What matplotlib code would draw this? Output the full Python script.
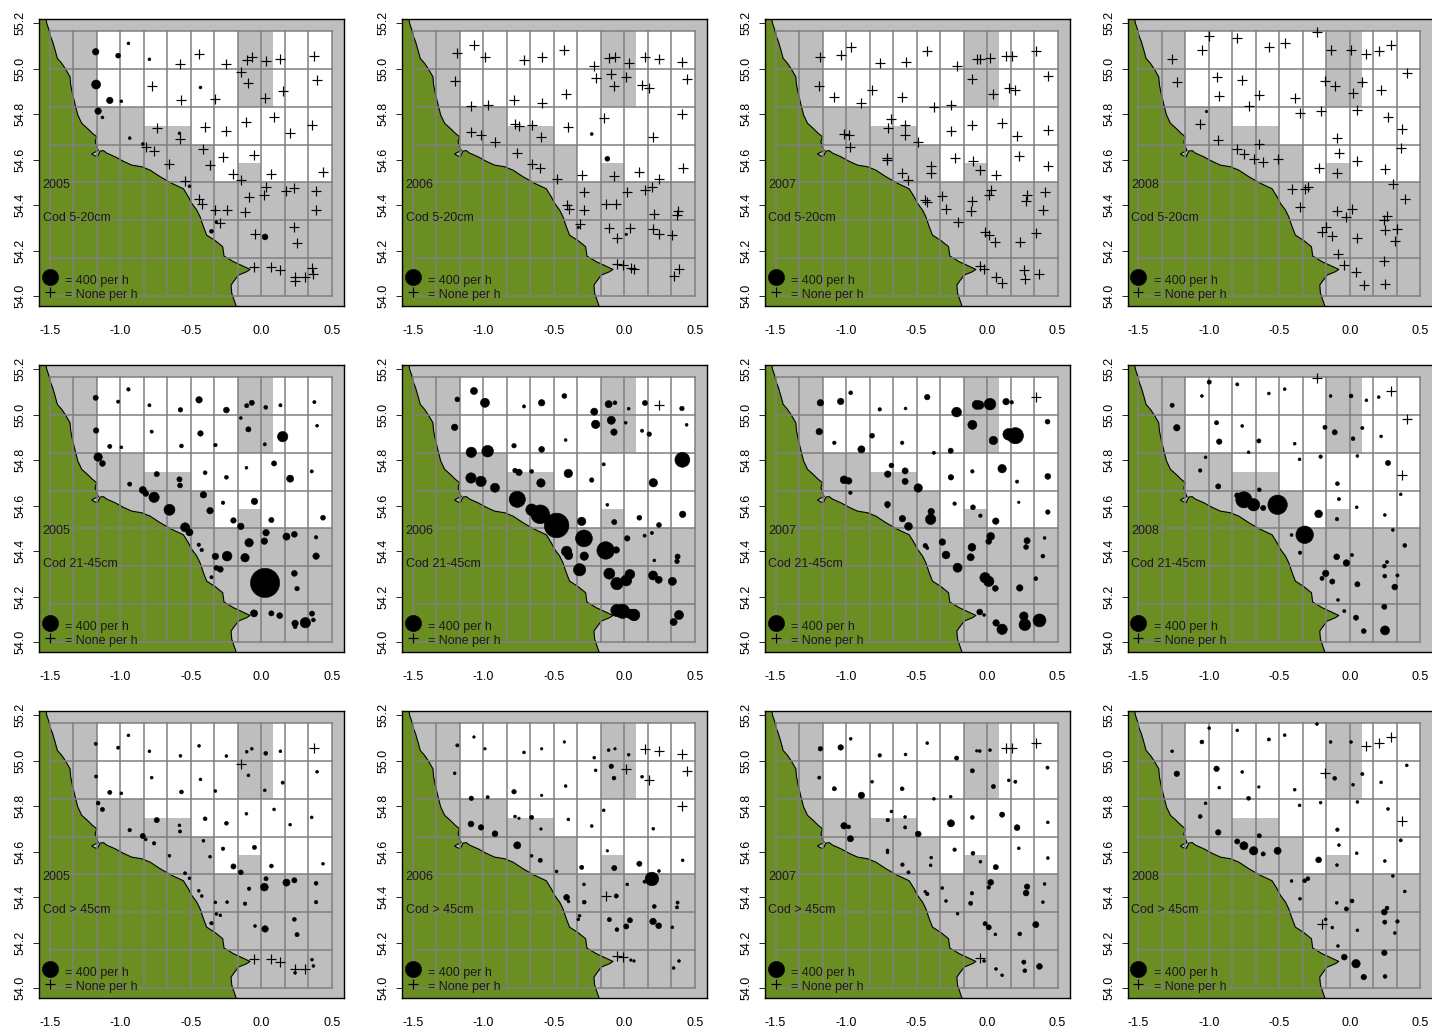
''' Cod survey catch rates by length group and year, North Sea coast '''
import matplotlib
matplotlib.use('Agg')
import matplotlib.pyplot as plt
import numpy as np

plt.rcParams['font.family'] = ['Liberation Sans', 'DejaVu Sans']

years = ['2005', '2006', '2007', '2008']
length_groups = ['Cod 5-20cm', 'Cod 21-45cm', 'Cod > 45cm']

coast_lon = [-1.526, -1.521, -1.505, -1.495, -1.479, -1.462, -1.446, -1.415, -1.391, -1.356,
             -1.351, -1.339, -1.316, -1.301, -1.273, -1.233, -1.197, -1.167, -1.178, -1.167,
             -1.155, -1.186, -1.202, -1.183, -1.162, -1.143, -1.119, -1.096, -1.037, -0.978,
             -0.918, -0.848, -0.788, -0.717, -0.635, -0.552, -0.517, -0.493, -0.457, -0.434,
             -0.410, -0.387, -0.327, -0.273, -0.264, -0.197, -0.079, -0.103, -0.162, -0.197,
             -0.214, -0.209, -0.178]
coast_lat = [55.218, 55.200, 55.171, 55.144, 55.119, 55.083, 55.046, 55.024, 55.002, 54.965,
             54.929, 54.892, 54.833, 54.797, 54.760, 54.738, 54.716, 54.701, 54.679, 54.657,
             54.640, 54.631, 54.625, 54.618, 54.613, 54.638, 54.640, 54.629, 54.613, 54.593,
             54.576, 54.569, 54.554, 54.525, 54.496, 54.472, 54.437, 54.408, 54.378, 54.349,
             54.305, 54.268, 54.244, 54.217, 54.176, 54.151, 54.117, 54.107, 54.092, 54.063,
             54.048, 54.012, 53.956]

# statistical rectangles, and the ones outside the closed area (lon0, lon1, lat0, lat1)
grid_lon = [-1.5, -1.3333, -1.1667, -1.0, -0.8333, -0.6667, -0.5, -0.3333, -0.1667, 0.0, 0.1667, 0.3333, 0.5]
grid_lat = [54.0, 54.1667, 54.3333, 54.5, 54.6667, 54.8333, 55.0, 55.1667]
open_areas = [(-1.1667, -0.1667, 54.8333, 55.1667),
              (0.0833, 0.5, 54.8333, 55.1667),
              (-0.8333, -0.5, 54.75, 54.8333),
              (-0.5, 0.5, 54.6667, 54.8333),
              (-0.3333, -0.1667, 54.5, 54.6667),
              (-0.1667, 0.0, 54.5833, 54.6667),
              (0.0, 0.5, 54.5, 54.6667)]

lon_2005 = [-1.174, -1.015, -0.942, -0.793, -1.171, -1.074, -0.992, -1.157, -1.126, -0.933,
            -0.840, -0.580, -0.509, -0.318, -0.353, -0.431, -0.573, -0.441, -0.247, -0.103,
            -0.067, 0.032, 0.136, 0.377, -0.145, -0.091, 0.152, 0.396, 0.025, -0.777,
            -0.566, -0.325, -0.741, -0.398, -0.247, -0.105, 0.091, 0.205, 0.358, -0.576,
            -0.819, -0.760, -0.410, -0.651, -0.363, -0.271, -0.048, -0.197, -0.145, 0.072,
            0.438, -0.540, -0.443, -0.422, -0.325, -0.242, -0.115, -0.086, 0.022, 0.034,
            0.179, 0.235, 0.389, 0.389, -0.290, -0.044, 0.027, 0.235, 0.254, -0.051,
            0.072, 0.131, 0.240, 0.240, 0.313, 0.360, 0.370]
lat_2005 = [55.075, 55.058, 55.112, 55.042, 54.931, 54.861, 54.857, 54.814, 54.786, 54.695,
            54.669, 54.716, 54.483, 54.326, 54.285, 54.918, 55.022, 55.066, 55.021, 55.040,
            55.053, 55.033, 55.042, 55.056, 54.986, 54.936, 54.904, 54.952, 54.870, 54.926,
            54.863, 54.867, 54.739, 54.745, 54.725, 54.767, 54.786, 54.719, 54.751, 54.689,
            54.654, 54.637, 54.648, 54.582, 54.578, 54.613, 54.619, 54.535, 54.509, 54.537,
            54.547, 54.505, 54.428, 54.405, 54.377, 54.378, 54.371, 54.437, 54.444, 54.481,
            54.464, 54.474, 54.461, 54.378, 54.320, 54.273, 54.260, 54.302, 54.235, 54.126,
            54.126, 54.116, 54.082, 54.067, 54.085, 54.125, 54.097]
small_2005 = [64, 36, 13, 13, 125, 64, 13, 64, 13, 13,
              13, 13, 13, 13, 23, 13, 0, 0, 0, 0,
              0, 0, 0, 0, 0, 0, 0, 0, 0, 0,
              0, 0, 0, 0, 0, 0, 0, 0, 0, 0,
              0, 0, 0, 0, 0, 0, 0, 0, 0, 0,
              0, 0, 0, 0, 0, 0, 0, 0, 0, 0,
              0, 0, 0, 0, 0, 0, 52, 0, 0, 0,
              0, 0, 0, 0, 0, 0, 0]
mid_2005 = [41, 16, 19, 16, 46, 27, 13, 108, 52, 27,
            77, 41, 77, 36, 16, 46, 31, 64, 52, 27,
            41, 23, 16, 16, 13, 41, 164, 13, 16, 16,
            23, 19, 41, 23, 23, 13, 41, 77, 16, 36,
            52, 164, 64, 185, 64, 19, 64, 46, 64, 41,
            36, 125, 19, 19, 64, 144, 108, 108, 64, 64,
            77, 52, 19, 64, 52, 36, 1296, 52, 31, 77,
            41, 52, 64, 23, 164, 41, 23]
large_2005 = [16, 16, 13, 13, 16, 27, 13, 23, 27, 19,
              41, 13, 13, 13, 19, 13, 13, 13, 13, 13,
              13, 23, 13, 0, 0, 13, 16, 13, 13, 13,
              23, 13, 41, 23, 23, 13, 13, 13, 13, 16,
              13, 19, 13, 13, 13, 19, 27, 41, 36, 23,
              13, 16, 13, 13, 13, 13, 19, 19, 92, 27,
              77, 41, 23, 19, 13, 13, 64, 23, 27, 0,
              0, 0, 0, 13, 0, 13, 13]

lon_2006 = [-1.183, -1.065, -0.987, -0.710, -0.585, -0.424, -0.212, -0.110, -0.065, 0.032,
            0.148, 0.247, 0.410, -1.202, -0.202, -0.091, -0.072, 0.011, 0.127, 0.178,
            0.443, -0.415, -0.781, -0.585, -1.084, -0.968, 0.413, -0.145, -0.774, -0.746,
            -0.656, -0.396, -1.086, -1.015, -0.916, -0.590, -0.230, 0.207, -0.758, -0.656,
            -0.595, -0.119, 0.415, -0.301, -0.070, 0.108, 0.247, -0.479, -0.285, 0.022,
            0.145, 0.197, -0.408, -0.394, -0.283, -0.131, -0.056, 0.214, 0.379, 0.375,
            -0.316, -0.325, -0.105, 0.041, 0.015, -0.051, 0.205, 0.245, 0.342, -0.051,
            -0.011, 0.048, 0.070, 0.389, 0.351]
lat_2006 = [55.068, 55.105, 55.053, 55.037, 55.053, 55.083, 55.014, 55.047, 55.053, 55.027,
            55.052, 55.042, 55.028, 54.945, 54.958, 54.976, 54.924, 54.965, 54.930, 54.915,
            54.956, 54.889, 54.864, 54.848, 54.835, 54.840, 54.802, 54.782, 54.755, 54.747,
            54.751, 54.742, 54.722, 54.707, 54.679, 54.700, 54.713, 54.701, 54.628, 54.582,
            54.562, 54.604, 54.562, 54.531, 54.528, 54.547, 54.515, 54.513, 54.456, 54.456,
            54.468, 54.480, 54.399, 54.381, 54.378, 54.403, 54.405, 54.359, 54.376, 54.355,
            54.318, 54.302, 54.301, 54.298, 54.271, 54.257, 54.293, 54.274, 54.267, 54.139,
            54.135, 54.123, 54.119, 54.119, 54.088]
small_2006 = [0, 0, 0, 0, 0, 0, 0, 0, 0, 0,
              0, 0, 0, 0, 0, 0, 0, 0, 0, 0,
              0, 0, 0, 0, 0, 0, 0, 0, 0, 0,
              0, 0, 0, 0, 0, 0, 13, 0, 0, 0,
              0, 36, 0, 0, 0, 0, 0, 0, 0, 0,
              0, 0, 0, 0, 0, 0, 0, 0, 0, 0,
              0, 10, 0, 0, 10, 0, 0, 0, 0, 0,
              0, 0, 0, 0, 0]
mid_2006 = [36, 77, 125, 16, 64, 36, 77, 77, 23, 13,
            41, 0, 31, 64, 108, 100, 64, 13, 16, 31,
            13, 13, 31, 52, 164, 207, 339, 16, 31, 64,
            23, 108, 164, 164, 125, 108, 31, 108, 400, 207,
            538, 13, 64, 108, 41, 36, 36, 924, 433, 46,
            16, 16, 164, 108, 108, 467, 64, 13, 41, 31,
            231, 16, 185, 144, 185, 231, 125, 77, 100, 231,
            310, 144, 207, 125, 77]
large_2006 = [16, 10, 10, 13, 10, 10, 13, 13, 10, 13,
              0, 0, 0, 13, 13, 31, 23, 0, 13, 0,
              0, 13, 31, 10, 31, 16, 0, 13, 13, 10,
              27, 13, 52, 46, 52, 10, 13, 13, 77, 13,
              27, 10, 13, 27, 41, 41, 13, 13, 13, 13,
              16, 282, 52, 13, 23, 0, 27, 23, 16, 16,
              13, 13, 27, 41, 41, 23, 64, 52, 13, 0,
              0, 10, 10, 13, 13]

lon_2007 = [-1.182, -1.038, -0.967, -0.761, -0.578, -0.424, -0.216, -0.073, -0.052, 0.021,
            0.135, 0.175, 0.346, -1.190, -0.104, 0.429, 0.154, 0.201, 0.045, -0.815,
            -1.083, -0.602, -0.891, -0.377, -0.258, -0.678, -0.704, -0.581, -0.104, 0.107,
            -0.256, 0.431, -1.014, -0.981, -0.581, 0.213, -0.488, -0.969, -0.706, -0.706,
            -0.230, 0.225, -0.100, -0.396, -0.400, 0.431, -0.047, 0.062, -0.600, -0.557,
            -0.317, -0.438, -0.424, -0.107, -0.116, -0.291, 0.026, 0.012, 0.284, 0.277,
            0.408, 0.396, -0.209, -0.014, 0.012, 0.059, 0.232, 0.346, -0.052, -0.021,
            0.064, 0.107, 0.261, 0.268, 0.372]
lat_2007 = [55.053, 55.059, 55.097, 55.024, 55.028, 55.078, 55.012, 55.044, 55.043, 55.047,
            55.058, 55.055, 55.077, 54.926, 54.956, 54.970, 54.914, 54.908, 54.887, 54.908,
            54.877, 54.877, 54.848, 54.833, 54.842, 54.777, 54.739, 54.753, 54.751, 54.763,
            54.725, 54.729, 54.714, 54.709, 54.707, 54.706, 54.678, 54.657, 54.606, 54.597,
            54.609, 54.615, 54.593, 54.574, 54.540, 54.572, 54.556, 54.532, 54.543, 54.509,
            54.440, 54.424, 54.414, 54.417, 54.373, 54.383, 54.465, 54.443, 54.446, 54.418,
            54.458, 54.378, 54.327, 54.283, 54.267, 54.236, 54.238, 54.279, 54.132, 54.119,
            54.084, 54.056, 54.114, 54.076, 54.095]
small_2007 = [0, 0, 0, 0, 0, 0, 0, 0, 0, 0,
              0, 0, 0, 0, 0, 0, 0, 0, 0, 0,
              0, 0, 0, 0, 0, 0, 0, 0, 0, 0,
              0, 0, 0, 0, 0, 0, 0, 0, 0, 0,
              0, 0, 0, 0, 0, 0, 0, 0, 0, 0,
              0, 0, 0, 0, 0, 0, 0, 0, 0, 0,
              0, 0, 0, 0, 0, 0, 0, 0, 0, 0,
              0, 0, 0, 0, 0]
mid_2007 = [64, 64, 23, 19, 13, 46, 144, 125, 108, 207,
            64, 19, 0, 64, 125, 36, 207, 400, 108, 36,
            19, 19, 77, 16, 41, 36, 64, 58, 19, 108,
            46, 52, 92, 64, 58, 16, 108, 19, 52, 16,
            19, 10, 36, 64, 164, 31, 19, 64, 64, 92,
            64, 31, 16, 92, 77, 92, 92, 52, 58, 36,
            13, 23, 125, 164, 164, 52, 64, 23, 52, 13,
            64, 164, 108, 207, 256]
large_2007 = [31, 46, 13, 19, 13, 13, 27, 10, 13, 13,
              0, 0, 0, 16, 27, 16, 13, 16, 27, 13,
              27, 23, 64, 13, 13, 13, 19, 13, 23, 41,
              77, 13, 64, 23, 16, 52, 52, 58, 13, 13,
              19, 13, 23, 13, 13, 13, 13, 41, 19, 16,
              13, 13, 19, 19, 27, 13, 52, 19, 46, 52,
              13, 13, 13, 27, 41, 13, 23, 58, 0, 13,
              13, 13, 27, 23, 52]

lon_2008 = [-1.261, -0.998, -1.050, -0.799, -0.575, -0.463, -0.234, -0.137, 0.008, 0.117,
            0.204, 0.294, 0.403, -1.228, -0.946, -0.764, -0.177, -0.108, 0.088, 0.022,
            0.221, -0.927, -0.646, -0.392, -0.719, -0.208, 0.053, -0.357, 0.270, -1.024,
            -1.062, 0.372, -0.089, -0.934, -0.643, -0.799, -0.752, 0.360, -0.078, -0.683,
            -0.615, -0.513, 0.048, 0.247, -0.222, -0.092, 0.304, -0.414, -0.321, -0.298,
            0.389, -0.354, -0.094, 0.015, -0.025, 0.263, 0.244, 0.247, 0.337, -0.172,
            -0.198, -0.125, 0.053, 0.318, -0.085, 0.244, -0.040, 0.043, 0.098, 0.249]
lat_2008 = [55.042, 55.144, 55.083, 55.134, 55.094, 55.113, 55.162, 55.083, 55.083, 55.064,
            55.078, 55.106, 54.980, 54.943, 54.965, 54.951, 54.945, 54.923, 54.942, 54.895,
            54.905, 54.882, 54.885, 54.873, 54.835, 54.816, 54.819, 54.804, 54.788, 54.813,
            54.755, 54.735, 54.697, 54.685, 54.670, 54.645, 54.626, 54.650, 54.629, 54.604,
            54.590, 54.604, 54.593, 54.559, 54.564, 54.541, 54.493, 54.471, 54.472, 54.481,
            54.425, 54.393, 54.375, 54.383, 54.348, 54.352, 54.334, 54.290, 54.293, 54.302,
            54.280, 54.266, 54.254, 54.242, 54.185, 54.155, 54.136, 54.107, 54.048, 54.051]
small_2008 = [0, 0, 0, 0, 0, 0, 0, 0, 0, 0,
              0, 0, 0, 0, 0, 0, 0, 0, 0, 0,
              0, 0, 0, 0, 0, 0, 0, 0, 0, 10,
              0, 0, 0, 0, 0, 0, 0, 0, 0, 0,
              0, 0, 0, 0, 0, 0, 0, 0, 0, 0,
              0, 0, 0, 0, 0, 0, 0, 0, 0, 0,
              0, 0, 0, 0, 0, 0, 0, 0, 0, 0]
mid_2008 = [27, 27, 13, 16, 13, 13, 0, 13, 23, 13,
            13, 0, 0, 64, 27, 13, 27, 41, 16, 23,
            13, 46, 27, 13, 13, 19, 13, 13, 41, 13,
            19, 0, 23, 41, 23, 41, 400, 13, 16, 231,
            41, 576, 13, 13, 92, 19, 13, 13, 467, 23,
            23, 19, 52, 16, 64, 16, 23, 23, 16, 64,
            27, 41, 41, 52, 13, 41, 16, 41, 36, 125]
large_2008 = [13, 13, 23, 13, 16, 13, 13, 13, 13, 0,
              0, 0, 13, 46, 46, 13, 0, 23, 16, 13,
              13, 13, 10, 13, 23, 13, 13, 13, 13, 13,
              23, 0, 19, 46, 27, 41, 100, 16, 13, 108,
              27, 77, 13, 13, 52, 13, 13, 13, 23, 23,
              13, 13, 13, 23, 27, 23, 52, 27, 19, 13,
              0, 13, 13, 13, 13, 46, 52, 108, 46, 23]

stations = [(lon_2005, lat_2005), (lon_2006, lat_2006), (lon_2007, lat_2007), (lon_2008, lat_2008)]
catches = [[small_2005, small_2006, small_2007, small_2008],
           [mid_2005, mid_2006, mid_2007, mid_2008],
           [large_2005, large_2006, large_2007, large_2008]]

legend_catch = 400
legend_diam_px = 16.2
dpi = 100
fig_w, fig_h = 1432, 1032
sea_col = '#bebebe'
land_col = '#6b8e23'
grid_col = '#7f7f7f'
text_col = '#1a1a1a'


def bubble_size(catch):
    ''' scatter area in points^2, diameter goes with the square root of catch '''
    diam_pt = legend_diam_px*np.sqrt(np.asarray(catch, dtype=float)/legend_catch)*72/dpi
    return diam_pt**2


def draw_panel(ax, lon, lat, catch, year, group):
    ''' One map panel '''
    ax.set_facecolor(sea_col)
    for lon0, lon1, lat0, lat1 in open_areas:
        ax.fill([lon0, lon1, lon1, lon0], [lat0, lat0, lat1, lat1], color='white', lw=0, zorder=1)

    land_lon = [-1.8] + coast_lon + [-1.8]
    land_lat = [coast_lat[0]] + coast_lat + [coast_lat[-1]]
    ax.fill(land_lon, land_lat, color=land_col, lw=0, zorder=2)
    ax.plot(coast_lon, coast_lat, color='black', lw=0.8, zorder=3)

    for x in grid_lon:
        ax.plot([x, x], [grid_lat[0], grid_lat[-1]], color=grid_col, lw=1.1, zorder=4)
    for y in grid_lat:
        ax.plot([grid_lon[0], grid_lon[-1]], [y, y], color=grid_col, lw=1.1, zorder=4)

    lon = np.array(lon)
    lat = np.array(lat)
    catch = np.array(catch)
    hit = catch > 0
    ax.scatter(lon[hit], lat[hit], s=bubble_size(catch[hit]), c='black', marker='o',
               edgecolors='black', linewidths=0.4, zorder=5)
    ax.scatter(lon[~hit], lat[~hit], s=44, c='black', marker='+', linewidths=0.85, zorder=5)

    ax.scatter([-1.5], [54.085], s=bubble_size(legend_catch), c='black', marker='o',
               edgecolors='black', linewidths=0.4, zorder=5)
    ax.scatter([-1.5], [54.016], s=44, c='black', marker='+', linewidths=0.85, zorder=5)
    ax.text(-1.391, 54.065, '= 400 per h', fontsize=9, color=text_col, va='center', zorder=6)
    ax.text(-1.391, 54.005, '= None per h', fontsize=9, color=text_col, va='center', zorder=6)
    ax.text(-1.55, 54.489, year, fontsize=9, color=text_col, va='center', zorder=6)
    ax.text(-1.55, 54.343, group, fontsize=9, color=text_col, va='center', zorder=6)

    ax.set_xlim(-1.574, 0.587)
    ax.set_ylim(53.956, 55.218)
    ax.set_xticks([-1.5, -1.0, -0.5, 0.0, 0.5])
    ax.set_yticks([54.0, 54.2, 54.4, 54.6, 54.8, 55.0, 55.2])
    ax.set_xticklabels(['-1.5', '-1.0', '-0.5', '0.0', '0.5'])
    ax.set_yticklabels(['54.0', '54.2', '54.4', '54.6', '54.8', '55.0', '55.2'],
                       rotation=90, va='center')
    ax.tick_params(axis='x', length=0, pad=13.5, labelsize=9)
    ax.tick_params(axis='y', length=4, width=0.6, pad=5, labelsize=9)
    for spine in ax.spines.values():
        spine.set_linewidth(1.0)
        spine.set_zorder(7)


def main():
    fig = plt.figure(figsize=(fig_w/dpi, fig_h/dpi), dpi=dpi)
    for row, group in enumerate(length_groups):
        for col, year in enumerate(years):
            left = 39.3 + 362.9*col
            top = 19.3 + 346*row
            ax = fig.add_axes([left/fig_w, 1 - (top + 286.7)/fig_h, 304.7/fig_w, 286.7/fig_h])
            lon, lat = stations[col]
            draw_panel(ax, lon, lat, catches[row][col], year, group)
    fig.savefig('out.png', dpi=dpi)


if __name__ == '__main__':
    main()
